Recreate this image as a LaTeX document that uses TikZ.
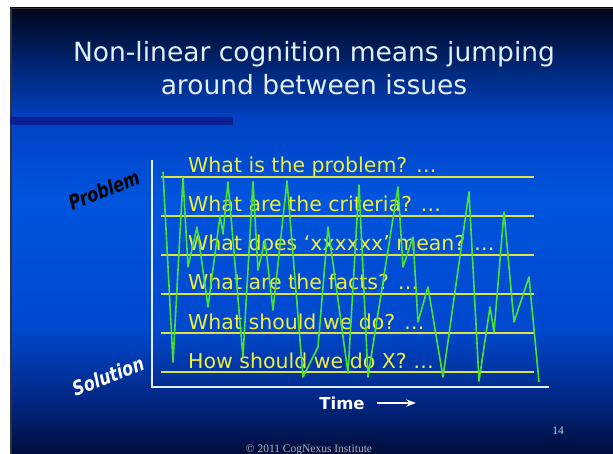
\documentclass[tikz,border=0pt]{standalone}
\usepackage{fontspec}
\setmainfont{DejaVu Sans}
\newfontfamily\notefont{Liberation Serif}
\newfontfamily\slantfont{DejaVu Sans}[FakeStretch=0.8]
\usetikzlibrary{positioning,arrows.meta}

\definecolor{bgA}{RGB}{0,14,58}
\definecolor{bgB}{RGB}{0,38,130}
\definecolor{bgC}{RGB}{0,72,205}
\definecolor{bgD}{RGB}{0,84,222}
\definecolor{bgE}{RGB}{0,66,195}
\definecolor{bgF}{RGB}{0,35,110}
\definecolor{bgG}{RGB}{0,6,28}
\definecolor{titlec}{RGB}{225,240,252}
\definecolor{barc}{RGB}{8,32,145}
\definecolor{rulec}{RGB}{222,226,72}
\definecolor{itemc}{RGB}{238,238,60}
\definecolor{zigc}{RGB}{72,226,52}
\definecolor{axisc}{RGB}{225,240,255}
\pgfdeclareverticalshading{slidebg}{100bp}{color(0bp)=(bgA); color(25bp)=(bgA); color(31bp)=(bgB);
  color(39bp)=(bgC); color(53.5bp)=(bgD); color(62.5bp)=(bgE); color(69bp)=(bgF);
  color(75bp)=(bgG); color(100bp)=(bgG)}

\begin{document}
\begin{tikzpicture}[x=1pt,y=-1pt,>=Stealth,
  titletext/.style={text=titlec, inner sep=0pt, anchor=base, font=\fontsize{26.5}{32}\selectfont},
  item/.style={text=itemc, inner sep=0pt, anchor=base west, font=\fontsize{20.5}{24}\selectfont},
  sidelab/.style={inner sep=0pt, font=\slantfont\bfseries\itshape\fontsize{20}{24}\selectfont},
  rule/.style={rulec, line width=1.6pt},
  note/.style={inner sep=0pt, font=\notefont\fontsize{11.5}{13}\selectfont}]
\useasboundingbox (0,0) rectangle (613,454);
\fill[white] (0,0) rectangle (613,454);
\shade[shading=slidebg] (10,8) rectangle (613,454);
\draw[black!80, line width=1.5pt] (10.75,8.75) -- (613,8.75) (10.75,8.75) -- (10.75,454);
\fill[barc] (10,117) rectangle (233,125);

% title
\node[titletext] (t1) at (314,62) {Non-linear cognition means jumping};
\node[titletext] (t2) at (314,95) {around between issues};

% issue rows
\foreach \y in {177,216,255,294,333,372}
  \draw[rule] (161,\y) -- (534,\y);
\node[item] (q1) at (188,173) {What is the problem? …};
\node[item] (q2) at (188,212) {What are the criteria? …};
\node[item] (q3) at (188,251) {What does ‘xxxxxx’ mean? …};
\node[item] (q4) at (188,290) {What are the facts? …};
\node[item] (q5) at (188,329) {What should we do? …};
\node[item] (q6) at (188,368) {How should we do X? …};

% jumping around
\draw[zigc, line width=1.6pt, line join=round]
  (163,172) -- (173,362) -- (183,178) -- (188,267) -- (197,227) -- (208,307)
  -- (220,216) -- (223,234) -- (228,182) -- (243,357) -- (253,182) -- (258,270)
  -- (265,240) -- (273,310) -- (287,181) -- (303,377) -- (318,347) -- (328,227)
  -- (348,373) -- (359,185) -- (368,377) -- (398,187) -- (403,267) -- (413,237)
  -- (418,322) -- (428,287) -- (443,377) -- (469,192) -- (479,381) -- (490,307)
  -- (494,332) -- (504,212) -- (514,322) -- (529,277) -- (539,382);

% axes
\draw[axisc, line width=2.4pt] (152,160) |- (549,387);
\node[sidelab, text=black, rotate=22] (prob) at (104,190) {Problem};
\node[sidelab, text=white, rotate=21] (sol) at (108,376) {Solution};
\node[inner sep=0pt, text=white, font=\bfseries\fontsize{16.5}{20}\selectfont] (time) at (342,403) {Time};
\coordinate[right=51pt of time.east] (tend);
\draw[->, white, line width=1.5pt] ([xshift=12pt]time.east) -- (tend);

\node[note, text=black!20] (page) at (558,431) {14};
\node[note, text=black!30] (copy) at (309,450) {© 2011 CogNexus Institute};
\end{tikzpicture}
\end{document}
